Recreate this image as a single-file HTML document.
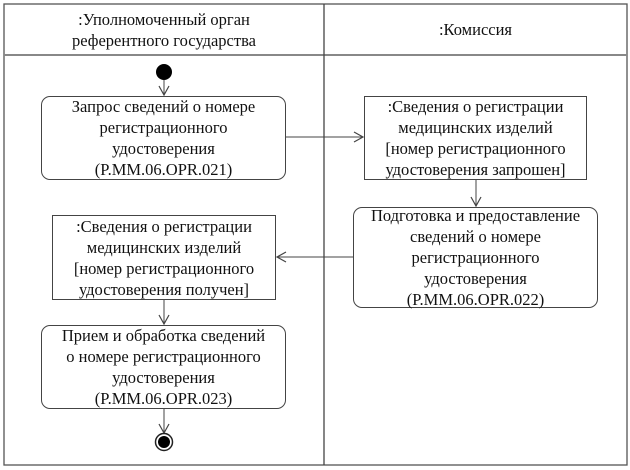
<!DOCTYPE html>
<html><head><meta charset="utf-8"><style>
body{margin:0;width:630px;height:470px;background:#fff;overflow:hidden;position:relative;font-family:"Liberation Serif",serif;font-size:16.5px;color:#111}
.b{position:absolute;box-sizing:border-box;border:1.3px solid #444;display:flex;align-items:center;justify-content:center;text-align:center;line-height:21px}
.r{border-radius:9px}
.h{position:absolute;text-align:center;line-height:21px}
</style></head><body>
<svg width="630" height="470" style="position:absolute;left:0;top:0">
<defs><marker id="a" markerWidth="12" markerHeight="12" refX="10" refY="6" orient="auto" markerUnits="userSpaceOnUse"><path d="M1,1 L10,6 L1,11" fill="none" stroke="#444" stroke-width="1.2"/></marker></defs>
<rect x="4" y="4" width="623" height="461" fill="none" stroke="#555" stroke-width="1.3"/>
<line x1="4" y1="55" x2="627" y2="55" stroke="#888" stroke-width="2"/>
<line x1="324" y1="4" x2="324" y2="465" stroke="#444" stroke-width="1.3"/>
<ellipse cx="164" cy="72" rx="8" ry="8" fill="#000"/>
<line x1="164" y1="80" x2="164" y2="95" stroke="#444" marker-end="url(#a)"/>
<line x1="286" y1="137" x2="363" y2="137" stroke="#444" marker-end="url(#a)"/>
<line x1="476" y1="180" x2="476" y2="206" stroke="#444" marker-end="url(#a)"/>
<line x1="353" y1="257" x2="277" y2="257" stroke="#444" marker-end="url(#a)"/>
<line x1="164" y1="300" x2="164" y2="324" stroke="#444" marker-end="url(#a)"/>
<line x1="164" y1="409" x2="164" y2="433" stroke="#444" marker-end="url(#a)"/>
<ellipse cx="164" cy="442" rx="8.5" ry="8.5" fill="#fff" stroke="#222" stroke-width="1.5"/>
<ellipse cx="164" cy="442" rx="6" ry="6" fill="#000"/>
</svg>
<div class="h" style="left:4px;width:320px;top:9px">:Уполномоченный орган<br>референтного государства</div>
<div class="h" style="left:324px;width:303px;top:19px">:Комиссия</div>
<div class="b r" style="left:41px;top:96px;width:245px;height:84px">Запрос сведений о номере<br>регистрационного<br>удостоверения<br>(P.MM.06.OPR.021)</div>
<div class="b" style="left:364px;top:96px;width:223px;height:84px">:Сведения о регистрации<br>медицинских изделий<br>[номер регистрационного<br>удостоверения запрошен]</div>
<div class="b r" style="left:353px;top:207px;width:245px;height:101px">Подготовка и предоставление<br>сведений о номере<br>регистрационного<br>удостоверения<br>(P.MM.06.OPR.022)</div>
<div class="b" style="left:52px;top:215px;width:224px;height:85px">:Сведения о регистрации<br>медицинских изделий<br>[номер регистрационного<br>удостоверения получен]</div>
<div class="b r" style="left:41px;top:325px;width:245px;height:84px">Прием и обработка сведений<br>о номере регистрационного<br>удостоверения<br>(P.MM.06.OPR.023)</div>
</body></html>
